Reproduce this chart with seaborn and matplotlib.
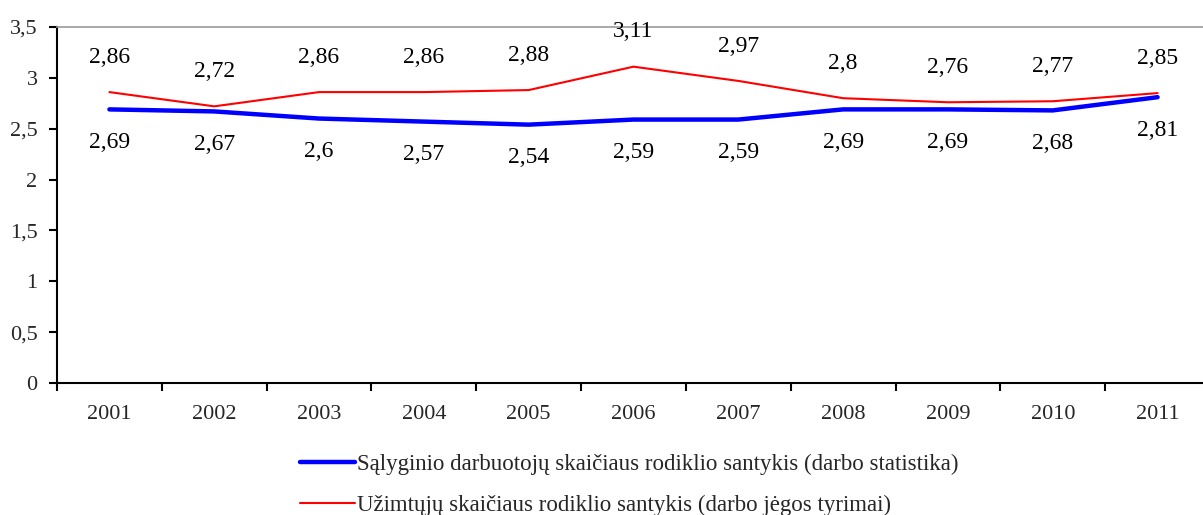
import matplotlib
matplotlib.use("Agg")
import matplotlib.pyplot as plt
from matplotlib.ticker import FuncFormatter, FixedLocator
from matplotlib.lines import Line2D
import seaborn as sns
import pandas as pd

# Duomenys
metai = ["2001", "2002", "2003", "2004", "2005", "2006", "2007", "2008", "2009", "2010", "2011"]
darbo_statistika = [2.69, 2.67, 2.6, 2.57, 2.54, 2.59, 2.59, 2.69, 2.69, 2.68, 2.81]
darbo_jegos_tyrimai = [2.86, 2.72, 2.86, 2.86, 2.88, 3.11, 2.97, 2.8, 2.76, 2.77, 2.85]

serija_1 = "Sąlyginio darbuotojų skaičiaus rodiklio santykis (darbo statistika)"
serija_2 = "Užimtųjų skaičiaus rodiklio santykis (darbo jėgos tyrimai)"

df = pd.concat([
    pd.DataFrame({"Metai": metai, "Santykis": darbo_statistika, "Serija": serija_1}),
    pd.DataFrame({"Metai": metai, "Santykis": darbo_jegos_tyrimai, "Serija": serija_2}),
])

sns.set_theme(style="white")
plt.rcParams["font.family"] = ["Liberation Serif", "DejaVu Serif"]

fig = plt.figure(figsize=(12.03, 5.15), dpi=100)
ax = fig.add_axes([57 / 1203, 1 - 383 / 515, 1153 / 1203, 356 / 515])

sns.lineplot(data=df, x="Metai", y="Santykis", hue="Serija", size="Serija",
             sizes={serija_1: 3.2, serija_2: 1.5},
             palette={serija_1: "#0000FF", serija_2: "#FF0000"},
             ax=ax, legend=False, sort=False)

# Reikšmių etiketės
def kablelis(v):
    return f"{v:g}".replace(".", ",")

for i, (b, r) in enumerate(zip(darbo_statistika, darbo_jegos_tyrimai)):
    ax.annotate(kablelis(r), (i, r), xytext=(0, 25), textcoords="offset points",
                ha="center", va="center", fontsize=17, color="black", clip_on=False)
    ax.annotate(kablelis(b), (i, b), xytext=(0, -24), textcoords="offset points",
                ha="center", va="center", fontsize=17, color="black")

ax.set_xlim(-0.5, len(metai) - 0.5)
ax.set_ylim(0, 3.5)
ax.set_yticks([0, 0.5, 1, 1.5, 2, 2.5, 3, 3.5])
ax.yaxis.set_major_formatter(FuncFormatter(lambda v, p: kablelis(v)))
ax.xaxis.set_minor_locator(FixedLocator([i - 0.5 for i in range(len(metai) + 1)]))

ax.tick_params(axis="x", which="major", length=0, pad=16, labelsize=16)
ax.tick_params(axis="x", which="minor", direction="out", length=6, width=1.5, color="black", bottom=True)
ax.tick_params(axis="y", direction="out", length=6, width=1.5, color="black", left=True, pad=8, labelsize=16)

ax.set_xlabel("")
ax.set_ylabel("")
ax.grid(False)

for s in ["left", "bottom"]:
    ax.spines[s].set_color("black")
    ax.spines[s].set_linewidth(1.5)
ax.spines["top"].set_color("#999999")
ax.spines["top"].set_linewidth(1.2)
ax.spines["right"].set_visible(False)

# Legenda apačioje
handles = [Line2D([0], [0], color="#0000FF", lw=3.2),
           Line2D([0], [0], color="#FF0000", lw=1.5)]
fig.legend(handles, [serija_1, serija_2], loc="center", bbox_to_anchor=(0.523, 0.058),
           ncol=1, frameon=False, fontsize=16.5, handlelength=2.4, handletextpad=0.1,
           labelspacing=0.85, alignment="left")

fig.savefig("out.png", dpi=100)
